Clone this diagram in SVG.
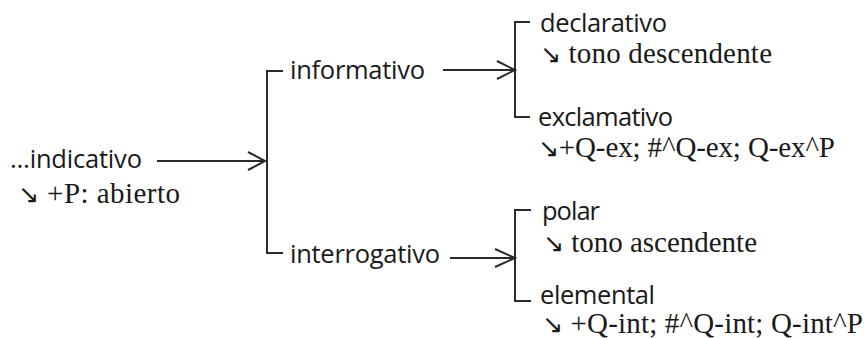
<svg xmlns="http://www.w3.org/2000/svg" width="866" height="338" viewBox="0 0 866 338">
<style>
.s{font-family:"Open Sans","Liberation Sans",sans-serif;font-size:25.5px;fill:#1a1a1a}
.r{font-family:"Liberation Serif","DejaVu Serif",serif;font-size:29px;fill:#1a1a1a}
.a{font-family:"DejaVu Sans",sans-serif;font-size:25px}
.l{fill:none;stroke:#2a2a2a;stroke-width:2}
</style>
<rect width="866" height="338" fill="#fff"/>
<g id="n-indicativo">
<text class="s" x="10" y="168" textLength="132">…indicativo</text>
<text class="r" x="18" y="203" textLength="162"><tspan class="a">↘</tspan> +P: abierto</text>
</g>
<g id="n-informativo">
<text class="s" x="290" y="79" textLength="135">informativo</text>
</g>
<g id="n-interrogativo">
<text class="s" x="290" y="263" textLength="150">interrogativo</text>
</g>
<g id="n-declarativo">
<text class="s" x="540" y="32" textLength="127">declarativo</text>
<text class="r" x="540" y="63" textLength="232"><tspan class="a">↘</tspan> tono descendente</text>
</g>
<g id="n-exclamativo">
<text class="s" x="538" y="126" textLength="135">exclamativo</text>
<text class="r" x="538" y="157" textLength="297"><tspan class="a">↘</tspan>+Q-ex; #^Q-ex; Q-ex^P</text>
</g>
<g id="n-polar">
<text class="s" x="542" y="220" textLength="58">polar</text>
<text class="r" x="543" y="252" textLength="214"><tspan class="a">↘</tspan> tono ascendente</text>
</g>
<g id="n-elemental">
<text class="s" x="540" y="304" textLength="115">elemental</text>
<text class="r" x="542" y="333" textLength="321"><tspan class="a">↘</tspan> +Q-int; #^Q-int; Q-int^P</text>
</g>
<g id="connectors">
<path class="l" d="M283 71H267V253H283"/>
<path class="l" d="M157 161H265M248 152L265 161L248 170"/>
<path class="l" d="M530 22H515V117H530"/>
<path class="l" d="M443 70H515M497 61L515 70L497 79"/>
<path class="l" d="M531 210H515V301H531"/>
<path class="l" d="M450 258H515M495 249L515 258L495 267"/>
</g>
</svg>
